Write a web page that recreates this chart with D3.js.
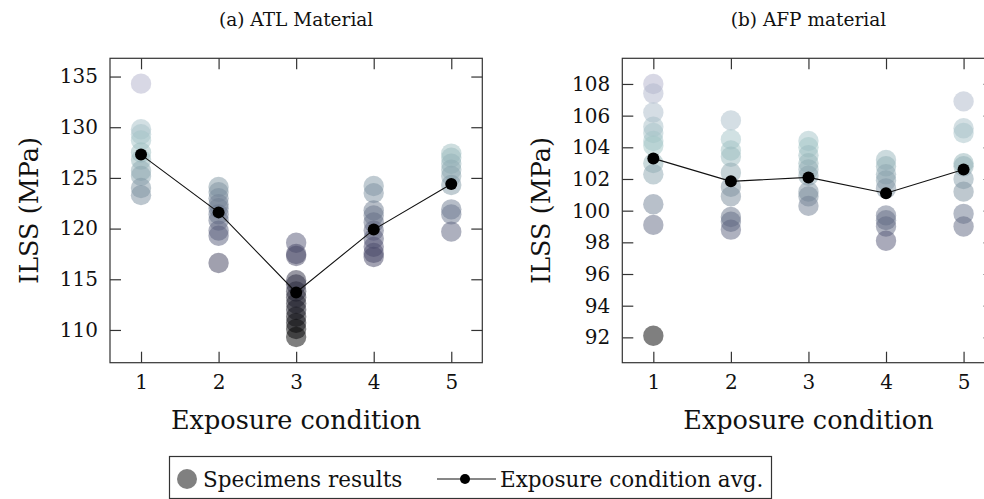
<!DOCTYPE html>
<html>
<head>
<meta charset="utf-8">
<script src="https://cdn.jsdelivr.net/npm/d3@7"></script>
<style>
	body { margin: 0; background: #fff; }
	text { font-family: 'DejaVu Serif', serif; fill: #111; }
</style>
</head>
<body>
<div id="visContainer"></div>
<script>
'use strict';

// exposure conditions (x axis)
var conditions = [1, 2, 3, 4, 5];

// (a) ATL material - ILSS of each specimen, per exposure condition
var atlSpecimens = [
	[134.3, 129.8, 129.3, 128.7, 127.5, 126.8, 125.7, 125.2, 124.0, 123.3],
	[124.1, 123.6, 123.0, 122.4, 122.0, 121.4, 120.8, 119.8, 119.3, 116.6],
	[118.6, 117.5, 117.3, 114.9, 114.5, 113.8, 113.2, 112.6, 112.0, 111.3, 110.7, 110.1, 109.3],
	[124.2, 123.5, 121.8, 121.3, 120.6, 119.8, 119.0, 118.2, 117.6, 117.2],
	[127.4, 127.0, 126.4, 125.8, 125.2, 124.3, 121.9, 121.4, 119.7]
];
var atlAverage = [127.3, 121.6, 113.7, 119.9, 124.4];
var atlTicks = [110, 115, 120, 125, 130, 135];

// (b) AFP material
var afpSpecimens = [
	[108.0, 107.4, 106.2, 105.3, 104.9, 104.4, 104.1, 103.0, 102.3, 100.4, 99.1, 92.1],
	[105.7, 104.5, 103.8, 103.4, 102.4, 101.5, 100.9, 99.6, 99.3, 98.8],
	[104.4, 104.0, 103.5, 103.0, 102.6, 102.2, 101.2, 100.9, 100.3],
	[103.2, 102.8, 102.3, 101.9, 101.4, 99.7, 99.4, 99.0, 98.1],
	[106.9, 105.2, 104.9, 103.0, 102.8, 102.0, 101.2, 99.8, 99.0]
];
var afpAverage = [103.3, 101.85, 102.1, 101.1, 102.6];
var afpTicks = [92, 94, 96, 98, 100, 102, 104, 106, 108];

var svg = d3.select('#visContainer')
	.append('svg')
	.attr('width', 984)
	.attr('height', 499)
	.style('display', 'block');

// colormap used for the specimen points (normalised ILSS)
var colormap = d3.scaleLinear()
	.domain([0, 0.35, 0.75, 1])
	.range(['#000000', '#4e4e70', '#a2c6c6', '#b2b2cc']);

function drawPanel(opts) {
	var x0 = opts.left, x1 = opts.left + 372.3;
	var y0 = 58.3, y1 = 362.7;

	var xScale = d3.scaleLinear().domain([0.6, 5.4]).range([x0, x1]);
	var yScale = d3.scaleLinear().domain(opts.yDomain).range([y1, y0]);

	var g = svg.append('g');

	// axes with inward ticks on all four sides
	g.append('g')
		.attr('transform', 'translate(0,' + y1 + ')')
		.call(d3.axisBottom(xScale).tickValues(conditions).tickFormat(d3.format('d'))
			.tickSizeInner(-11).tickSizeOuter(0).tickPadding(12));
	g.append('g')
		.attr('transform', 'translate(0,' + y0 + ')')
		.call(d3.axisTop(xScale).tickValues(conditions).tickSizeInner(-11).tickSizeOuter(0).tickFormat(''));
	g.append('g')
		.attr('transform', 'translate(' + x0 + ',0)')
		.call(d3.axisLeft(yScale).tickValues(opts.ticks).tickFormat(d3.format('d'))
			.tickSizeInner(-11).tickSizeOuter(0).tickPadding(12));
	g.append('g')
		.attr('transform', 'translate(' + x1 + ',0)')
		.call(d3.axisRight(yScale).tickValues(opts.ticks).tickSizeInner(-11).tickSizeOuter(0).tickFormat(''));

	g.selectAll('.domain').remove();
	g.selectAll('.tick line').attr('stroke', '#333').attr('stroke-width', 1.2);
	g.selectAll('.tick text')
		.style('font-family', "'DejaVu Serif', serif")
		.style('font-size', '20px')
		.attr('fill', '#111');

	g.append('rect')
		.attr('x', x0).attr('y', y0)
		.attr('width', x1 - x0).attr('height', y1 - y0)
		.attr('fill', 'none')
		.attr('stroke', '#333')
		.attr('stroke-width', 1.2);

	// specimen points coloured by normalised value
	var all = d3.merge(opts.specimens);
	var norm = d3.scaleLinear().domain(d3.extent(all)).range([0, 1]);

	var pts = [];
	opts.specimens.forEach(function (col, i) {
		col.forEach(function (v) {
			pts.push({ x: conditions[i], y: v });
		});
	});

	g.append('g').selectAll('circle')
		.data(pts)
		.enter().append('circle')
		.attr('cx', function (d) { return xScale(d.x); })
		.attr('cy', function (d) { return yScale(d.y); })
		.attr('r', 10.2)
		.attr('fill', function (d) { return colormap(norm(d.y)); })
		.attr('fill-opacity', 0.5);

	// average line
	var line = d3.line()
		.x(function (d, i) { return xScale(conditions[i]); })
		.y(function (d) { return yScale(d); });

	g.append('path')
		.attr('d', line(opts.average))
		.attr('fill', 'none')
		.attr('stroke', '#111')
		.attr('stroke-width', 1.1);

	g.append('g').selectAll('circle')
		.data(opts.average)
		.enter().append('circle')
		.attr('cx', function (d, i) { return xScale(conditions[i]); })
		.attr('cy', function (d) { return yScale(d); })
		.attr('r', 6)
		.attr('fill', '#000');

	// labels
	g.append('text')
		.attr('x', (x0 + x1) / 2)
		.attr('y', 26)
		.attr('text-anchor', 'middle')
		.style('font-size', '18.5px')
		.text(opts.title);

	g.append('text')
		.attr('x', (x0 + x1) / 2)
		.attr('y', 429)
		.attr('text-anchor', 'middle')
		.style('font-size', '25.5px')
		.text('Exposure condition');

	g.append('text')
		.attr('transform', 'translate(' + (x0 - 72) + ',' + ((y0 + y1) / 2) + ') rotate(-90)')
		.attr('text-anchor', 'middle')
		.style('font-size', '25.5px')
		.text('ILSS (MPa)');
}

drawPanel({
	left: 110,
	yDomain: [106.77, 136.8],
	ticks: atlTicks,
	specimens: atlSpecimens,
	average: atlAverage,
	title: '(a) ATL Material'
});

drawPanel({
	left: 622.3,
	yDomain: [90.4, 109.62],
	ticks: afpTicks,
	specimens: afpSpecimens,
	average: afpAverage,
	title: '(b) AFP material'
});

// legend
var legend = svg.append('g');
legend.append('rect')
	.attr('x', 169.5).attr('y', 456.5)
	.attr('width', 602).attr('height', 42)
	.attr('fill', '#fff')
	.attr('stroke', '#333')
	.attr('stroke-width', 1.2);
legend.append('circle')
	.attr('cx', 187).attr('cy', 479).attr('r', 10)
	.attr('fill', '#808080');
legend.append('text')
	.attr('x', 203).attr('y', 487)
	.style('font-size', '21.5px')
	.text('Specimens results');
legend.append('line')
	.attr('x1', 437).attr('x2', 496)
	.attr('y1', 479).attr('y2', 479)
	.attr('stroke', '#111').attr('stroke-width', 1.1);
legend.append('circle')
	.attr('cx', 465).attr('cy', 479).attr('r', 5)
	.attr('fill', '#000');
legend.append('text')
	.attr('x', 500).attr('y', 487)
	.style('font-size', '21.5px')
	.text('Exposure condition avg.');
</script>
</body>
</html>
